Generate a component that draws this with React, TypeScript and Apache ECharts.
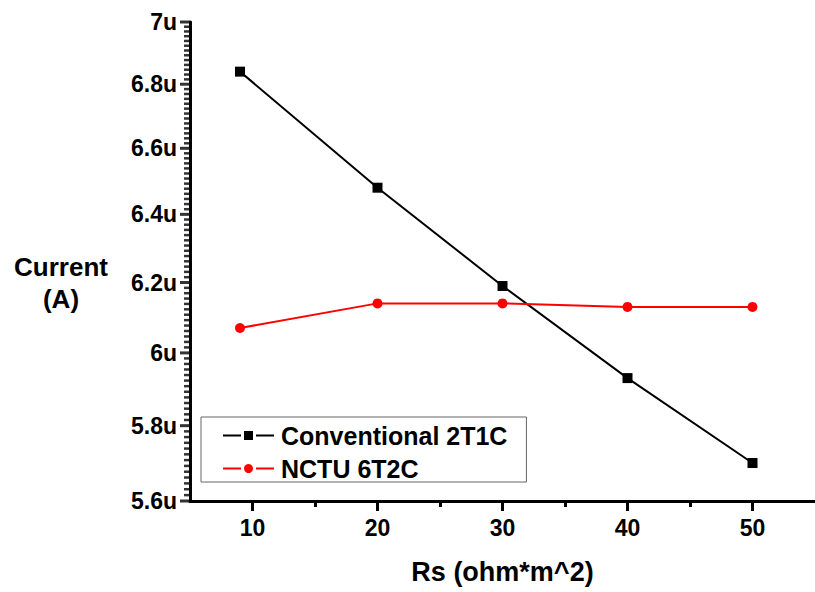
import React, { useEffect, useRef } from "react";
import * as echarts from "echarts";

const rsValues = [9, 20, 30, 40, 50];
const conventional2T1C = [6.84, 6.48, 6.19, 5.93, 5.70];
const nctu6T2C = [6.07, 6.14, 6.14, 6.13, 6.13];
const yMajorTicks = [5.6, 5.8, 6.0, 6.2, 6.4, 6.6, 6.8, 7.0];
const xMajorTicks = [10, 20, 30, 40, 50];
const xMinorTicks = [15, 25, 35, 45];
const yMinorPerMajor = 13;

const FONT = "'Liberation Sans', Arial, Helvetica, sans-serif";

export default function App() {
  const ref = useRef<HTMLDivElement>(null);
  useEffect(() => {
    if (!ref.current) return;
    const chart = echarts.init(ref.current, undefined, { renderer: "svg" });
    const X_MIN = 5;
    const majorTickData = yMajorTicks.map((v) => [X_MIN, v]);
    const minorTickData: number[][] = [];
    for (let i = 0; i < yMajorTicks.length - 1; i++) {
      const a = yMajorTicks[i];
      const b = yMajorTicks[i + 1];
      for (let k = 1; k < yMinorPerMajor; k++) minorTickData.push([X_MIN, a + ((b - a) * k) / yMinorPerMajor]);
    }
    const toPairs = (ys: number[]) => rsValues.map((x, i) => [x, ys[i]]);
    chart.setOption({
      animation: false,
      backgroundColor: "#ffffff",
      textStyle: { fontFamily: FONT },
      grid: { left: 190, right: -5, top: 22, bottom: 91 },
      xAxis: [
        {
          type: "value",
          min: X_MIN,
          max: 55,
          position: "bottom",
          name: "Rs (ohm*m^2)",
          nameLocation: "middle",
          nameGap: 57,
          nameTextStyle: { fontSize: 27, fontWeight: "bold", color: "#000", fontFamily: FONT },
          axisLine: { show: true, lineStyle: { color: "#000", width: 3 } },
          axisTick: { show: true, inside: false, length: 10, lineStyle: { color: "#000", width: 3 }, customValues: xMajorTicks },
          axisLabel: { show: true, customValues: xMajorTicks, margin: 15, fontSize: 23, fontWeight: "bold", color: "#000", fontFamily: FONT },
          splitLine: { show: false },
        },
        {
          type: "value",
          min: X_MIN,
          max: 55,
          position: "bottom",
          axisLine: { show: false },
          axisTick: { show: true, inside: false, length: 6, lineStyle: { color: "#000", width: 3 }, customValues: xMinorTicks },
          axisLabel: { show: false },
          splitLine: { show: false },
        },
      ],
      yAxis: [
        {
          type: "log",
          logBase: 10,
          min: 5.6,
          max: 7,
          position: "left",
          axisLine: { show: true, lineStyle: { color: "#000", width: 3 } },
          axisTick: { show: false },
          axisLabel: {
            show: true,
            customValues: yMajorTicks,
            margin: 13,
            fontSize: 23,
            fontWeight: "bold",
            color: "#000",
            fontFamily: FONT,
            formatter: (v: number) => `${+v.toFixed(1)}u`,
          },
          splitLine: { show: false },
          minorTick: { show: false },
        },
      ],
      legend: {
        orient: "vertical",
        left: 201,
        top: 417,
        padding: [6, 19, 1, 21],
        itemGap: 8,
        itemWidth: 51,
        itemHeight: 15,
        borderColor: "#666",
        borderWidth: 1,
        backgroundColor: "#fff",
        textStyle: { fontSize: 25, fontWeight: "bold", color: "#000", fontFamily: FONT, padding: [0, 0, 0, 2] },
        data: [
          { name: "Conventional 2T1C", itemStyle: { borderColor: "#fff", borderWidth: 3 } },
          { name: "NCTU 6T2C", itemStyle: { borderColor: "#fff", borderWidth: 3 } },
        ],
      },
      series: [
        {
          name: "yMajorTicks",
          type: "scatter",
          silent: true,
          clip: false,
          z: 10,
          data: majorTickData,
          symbol: "rect",
          symbolSize: [10, 3],
          symbolOffset: [-5, 0],
          itemStyle: { color: "#000" },
        },
        {
          name: "yMinorTicks",
          type: "scatter",
          silent: true,
          clip: false,
          z: 10,
          data: minorTickData,
          symbol: "rect",
          symbolSize: [6, 2.5],
          symbolOffset: [-3, 0],
          itemStyle: { color: "#000" },
        },
        {
          name: "Conventional 2T1C",
          type: "line",
          data: toPairs(conventional2T1C),
          symbol: "rect",
          symbolSize: 10,
          lineStyle: { color: "#000", width: 2 },
          itemStyle: { color: "#000" },
        },
        {
          name: "NCTU 6T2C",
          type: "line",
          data: toPairs(nctu6T2C),
          symbol: "circle",
          symbolSize: 10,
          lineStyle: { color: "#ff0000", width: 2 },
          itemStyle: { color: "#ff0000" },
        },
      ],
      graphic: [
        {
          type: "text",
          x: 61,
          y: 251,
          style: {
            text: "Current\n(A)",
            align: "center",
            verticalAlign: "top",
            fontSize: 26,
            fontWeight: "bold",
            lineHeight: 32,
            fill: "#000",
            fontFamily: FONT,
          },
        },
      ],
    });
    return () => chart.dispose();
  }, []);
  return <div ref={ref} style={{ width: 815, height: 592, position: "absolute", left: 0, top: 0 }} />;
}
